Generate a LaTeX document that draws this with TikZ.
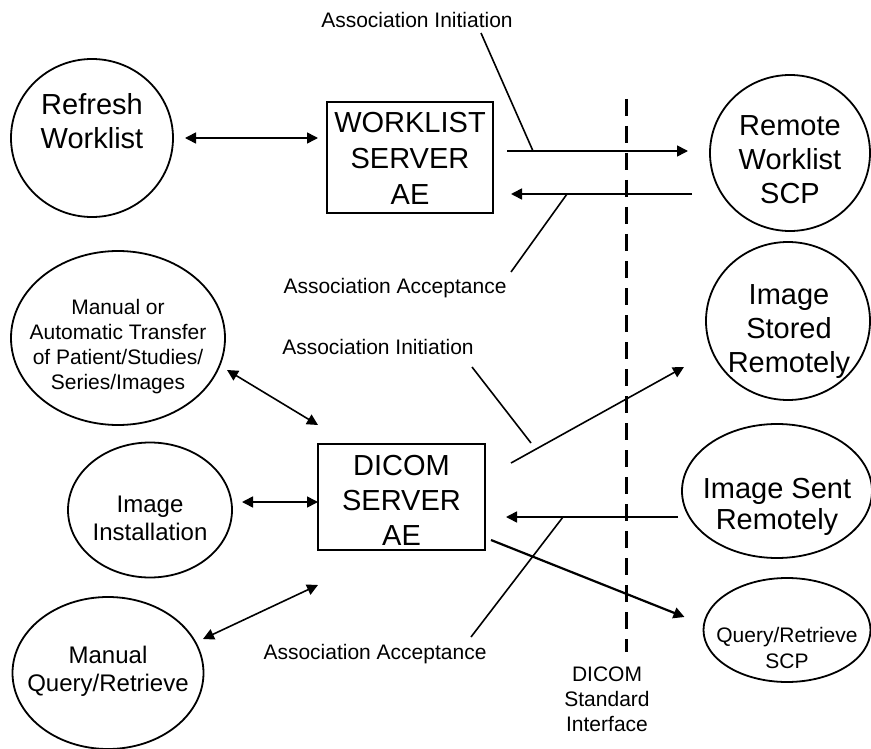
\documentclass[tikz,border=0pt]{standalone}
\usepackage{fontspec}
\setmainfont{Liberation Sans}
\usetikzlibrary{arrows.meta,calc,shapes.geometric}
\begin{document}
\begin{tikzpicture}[x=1pt,y=-1pt,
  bub/.style={draw,ellipse,line width=1.8pt,inner sep=0pt,outer sep=0pt},
  box/.style={draw,rectangle,line width=1.8pt,inner sep=0pt,outer sep=0pt},
  big/.style={font=\fontsize{29}{34}\selectfont,align=center,inner sep=0pt},
  mid/.style={font=\fontsize{24}{28}\selectfont,align=center,inner sep=0pt},
  sml/.style={font=\fontsize{21}{25}\selectfont,align=center,inner sep=0pt},
  ln/.style={line width=1.6pt},
  arr/.style={line width=1.6pt,-{Triangle[length=11pt,width=11pt]}},
  dbl/.style={line width=1.6pt,{Triangle[length=11pt,width=11pt]}-{Triangle[length=11pt,width=11pt]}},
]
\useasboundingbox (0,0) rectangle (871,749);

% nodes
\node[bub,minimum width=162,minimum height=158] (rw) at (92,138) {};
\node[big] at (92,121) {Refresh\\Worklist};

\node[box,minimum width=166,minimum height=111] (wl) at (410,157.5) {};
\node[big,font=\fontsize{29}{36}\selectfont] at (410,158) {WORKLIST\\SERVER\\AE};

\node[bub,minimum width=160,minimum height=156] (rws) at (790,153) {};
\node[big] at (790,160) {Remote\\Worklist\\SCP};

\node[bub,minimum width=164,minimum height=158] (isr) at (788,321) {};
\node[big] at (789,332) {Image\\Stored\\Remotely};

\node[bub,minimum width=190,minimum height=134] (ise) at (777,491) {};
\node[big,font=\fontsize{29}{31}\selectfont] at (777,507) {Image Sent\\Remotely};

\node[bub,minimum width=167,minimum height=104] (qrs) at (787,630) {};
\node[sml,font=\fontsize{21}{26}\selectfont] at (787,648) {Query/Retrieve\\SCP};

\node[bub,minimum width=214,minimum height=174] (tr) at (118,338) {};
\node[sml] at (118,347) {Manual or\\Automatic Transfer\\of Patient/Studies/\\Series/Images};

\node[bub,minimum width=164,minimum height=135] (ii) at (150,510) {};
\node[mid] at (150,518) {Image\\Installation};

\node[box,minimum width=167,minimum height=106] (dc) at (401.5,497) {};
\node[big,font=\fontsize{29}{35}\selectfont] at (401.5,500) {DICOM\\SERVER\\AE};

\node[bub,minimum width=191,minimum height=152] (mq) at (108,673) {};
\node[mid] at (108,671) {Manual\\Query/Retrieve};

% labels
\node[sml] (lbl1) at (417,20) {Association Initiation};
\node[sml] (lbl2) at (395,288) {Association Acceptance};
\node[sml] (lbl3) at (378,347) {Association Initiation};
\node[sml] (lbl4) at (375,654) {Association Acceptance};
\node[sml] (lbl5) at (607,699) {DICOM\\Standard\\Interface};

% DICOM interface line
\draw[line width=3pt,dash pattern=on 17pt off 10pt] (626,99) -- (626,652);

% worklist connectors
\draw[dbl,shorten <=12,shorten >=9] (rw.east) -- (rw.east -| wl.west);
\coordinate (a1) at ($(wl.east)+(14,-6.5)$);
\draw[arr,shorten >=22] (a1) -- (a1 -| rws.west);
\coordinate (a2) at ($(wl.east)+(18,36.5)$);
\draw[arr,shorten <=18] (a2 -| rws.west) -- (a2);
\draw[ln] ($(a1)+(26,0)$) -- ++(-52,-118);
\draw[ln] ($(a2)+(56,0)$) -- ++(-56,78);

% dicom server connectors
\draw[dbl] ($(tr.center)+(109,32)$) -- ($(dc.north west)+(0,-19)$);
\coordinate (a3) at ($(dc.west)+(0,5)$);
\draw[dbl,shorten <=10] (a3 -| ii.east) -- (a3);
\draw[dbl] ($(mq.center)+(95,-34)$) -- ($(dc.south west)+(0,35)$);

\draw[arr] ($(dc.north east)+(26,19)$) -- ($(isr.center)+(-104,46)$);
\draw[ln] ($(dc.north east)+(46,-1)$) -- ++(-59,-76);

\coordinate (a4) at ($(dc.east)+(21,20)$);
\draw[arr,shorten <=4] (a4 -| ise.west) -- (a4);
\draw[ln] ($(a4)+(57,0)$) -- ++(-92,120);

\draw[arr,line width=2.2pt] ($(dc.south east)+(6,-10)$) -- ($(qrs.west)+(-19,-13)$);
\end{tikzpicture}
\end{document}
